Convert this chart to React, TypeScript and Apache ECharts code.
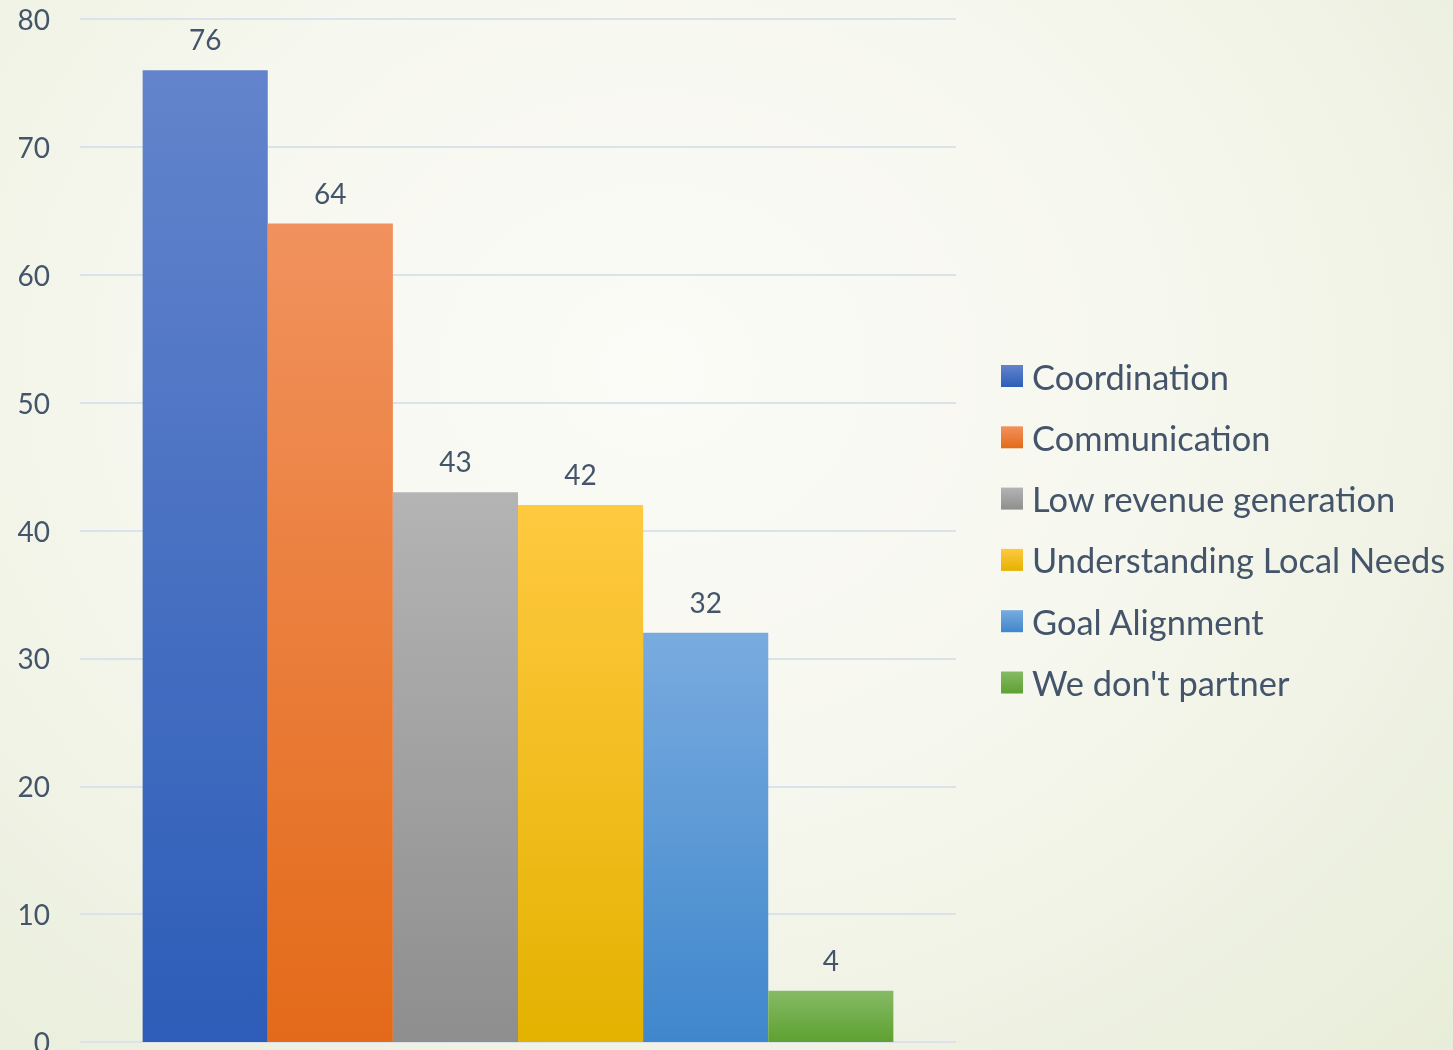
import React, { useEffect, useRef } from "react";
import * as echarts from "echarts";

const seriesNames = [
  "Coordination",
  "Communication",
  "Low revenue generation",
  "Understanding Local Needs",
  "Goal Alignment",
  "We don't partner",
];
const seriesValues = [76, 64, 43, 42, 32, 4];
const topColors = ["#6384CC", "#F1925E", "#B4B4B4", "#FFC940", "#79ABDF", "#86BA65"];
const bottomColors = ["#2D5DB8", "#E36A19", "#8E8E8E", "#E3B200", "#3F87CC", "#5EA131"];
const yTicks = { min: 0, max: 80, interval: 10 };
const categories = [""];

const TEXT = "#44546A";
const FONT = "Lato, 'Open Sans', sans-serif";

export default function App() {
  const ref = useRef<HTMLDivElement>(null);
  useEffect(() => {
    if (!ref.current) return;
    const chart = echarts.init(ref.current, null, { renderer: "svg" });
    chart.setOption({
      animation: false,
      backgroundColor: "transparent",
      grid: { left: 80, right: 497, top: 19, bottom: 8, containLabel: false, outerBoundsMode: "none" },
      legend: {
        orient: "vertical",
        left: 1001,
        top: 359,
        padding: 0,
        itemWidth: 22,
        itemHeight: 22,
        itemGap: 27.3,
        icon: "rect",
        data: seriesNames,
        textStyle: { color: TEXT, fontSize: 34.4, fontFamily: FONT, lineHeight: 34, padding: [0, 0, 0, 4] },
      },
      xAxis: {
        type: "category",
        data: categories,
        axisLine: { show: false },
        axisTick: { show: false },
        axisLabel: { show: false },
      },
      yAxis: {
        type: "value",
        min: yTicks.min,
        max: yTicks.max,
        interval: yTicks.interval,
        axisLine: { show: false },
        axisTick: { show: false },
        axisLabel: { color: TEXT, fontSize: 28, fontFamily: FONT, margin: 30 },
        splitLine: { lineStyle: { color: "#DCE2EC", width: 2 } },
      },
      series: seriesNames.map((name, i) => ({
        name,
        type: "bar",
        data: [seriesValues[i]],
        barGap: "0%",
        barCategoryGap: "14.3%",
        itemStyle: {
          color: new echarts.graphic.LinearGradient(0, 0, 0, 1, [
            { offset: 0, color: topColors[i] },
            { offset: 1, color: bottomColors[i] },
          ]),
        },
        label: {
          show: true,
          position: "top",
          distance: 17,
          color: TEXT,
          fontSize: 28,
          fontFamily: FONT,
        },
      })),
    });
    return () => chart.dispose();
  }, []);
  return (
    <div
      style={{
        position: "fixed",
        left: 0,
        top: 0,
        width: 1453,
        height: 1050,
        background:
          "radial-gradient(ellipse at 45% 35%, #FBFBF7 0%, #F6F7EE 45%, #E8EDD9 100%)",
      }}
    >
      <div ref={ref} style={{ width: 1453, height: 1050 }} />
    </div>
  );
}
